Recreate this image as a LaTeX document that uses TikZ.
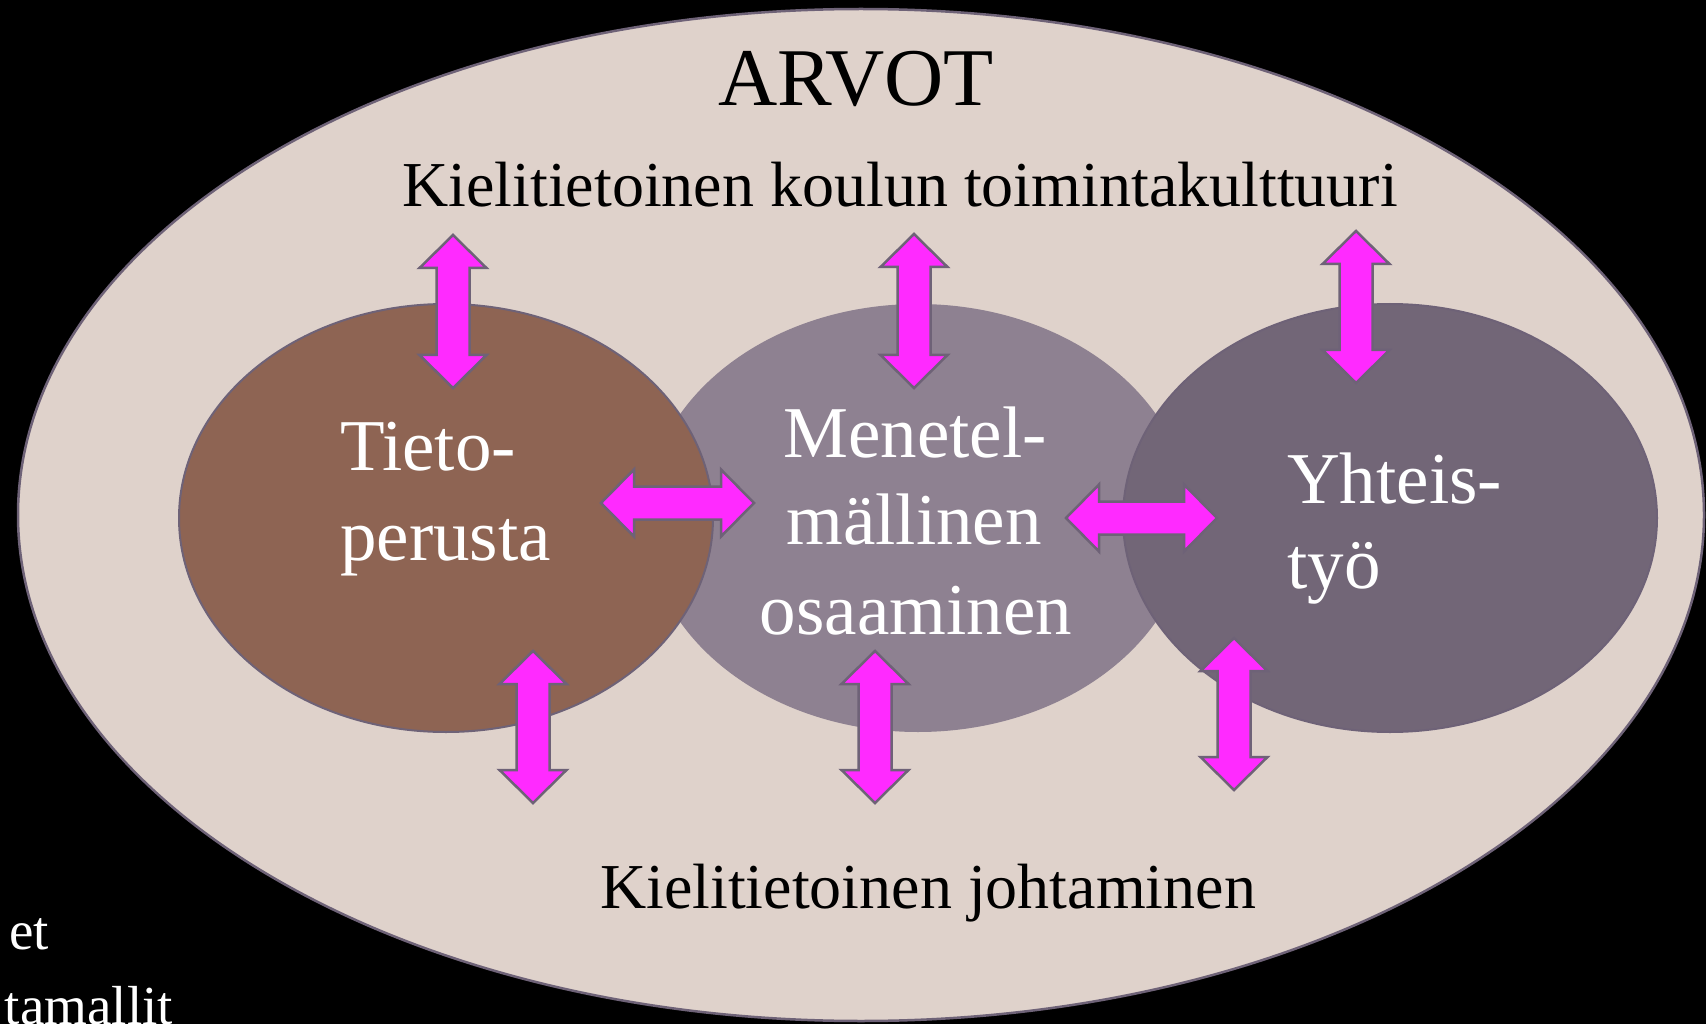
\documentclass[tikz,border=0pt]{standalone}
\usepackage{fontspec}
\setmainfont{Liberation Serif}
\definecolor{outerfill}{HTML}{DFD2CB}
\definecolor{brownfill}{HTML}{8E6453}
\definecolor{midfill}{HTML}{8E8191}
\definecolor{rightfill}{HTML}{726677}
\definecolor{edgecol}{HTML}{6E6277}
\definecolor{arrowfill}{HTML}{FF2AFF}
\tikzset{
  dblarrow/.style={fill=arrowfill, draw=edgecol, line width=2.5pt, line join=miter},
  darktext/.style={text=black, inner sep=0pt, anchor=base},
  lighttext/.style={text=white, inner sep=0pt, font=\fontsize{73}{88}\selectfont},
}
\newcommand{\VArrow}[3]{\draw[dblarrow] (#1,#2) -- (#1+33.5,#2+33) -- (#1+16.5,#2+33) -- (#1+16.5,#3-33) -- (#1+33.5,#3-33) -- (#1,#3) -- (#1-33.5,#3-33) -- (#1-16.5,#3-33) -- (#1-16.5,#2+33) -- (#1-33.5,#2+33) -- cycle;}
\newcommand{\HArrow}[3]{\draw[dblarrow] (#2,#1) -- (#2+33,#1-33.5) -- (#2+33,#1-16.5) -- (#3-33,#1-16.5) -- (#3-33,#1-33.5) -- (#3,#1) -- (#3-33,#1+33.5) -- (#3-33,#1+16.5) -- (#2+33,#1+16.5) -- (#2+33,#1+33.5) -- cycle;}
\begin{document}
\begin{tikzpicture}[x=1pt,y=-1pt]
\useasboundingbox (0,0) rectangle (1706,1024);
\fill[black] (0,0) rectangle (1706,1024);
\clip (0,0) rectangle (1706,1024);
% text behind, bottom left
\node[text=white, inner sep=0pt, anchor=base east, font=\fontsize{55}{66}\selectfont] (et) at (49,949) {et};
\node[text=white, inner sep=0pt, anchor=base east, font=\fontsize{55}{66}\selectfont] (tam) at (173,1024) {tamallit};
% outer ellipse
\draw[fill=outerfill, draw=edgecol, line width=2.5pt] (861,515) ellipse [x radius=843pt, y radius=506pt];
% inner ellipses
\fill[midfill] (918,518) ellipse [x radius=272pt, y radius=214pt];
\draw[fill=brownfill, draw=edgecol, line width=2pt] (446,518) ellipse [x radius=267pt, y radius=214pt];
\draw[fill=rightfill, draw=edgecol, line width=2pt] (1390,518) ellipse [x radius=267pt, y radius=214pt];
% titles
\node[darktext, font=\fontsize{82}{96}\selectfont] (arvot) at (856,106) {ARVOT};
\node[darktext, font=\fontsize{64}{76}\selectfont] (kult) at (900,207) {Kielitietoinen koulun toimintakulttuuri};
\node[darktext, font=\fontsize{64}{76}\selectfont] (joht) at (928,908) {Kielitietoinen johtaminen};
% ellipse texts
\node[lighttext, anchor=base west] (t1) at (340,470) {Tieto-};
\node[lighttext, anchor=base west] (t2) at (340,560) {perusta};
\node[lighttext, anchor=base] (m1) at (915,457) {Menetel-};
\node[lighttext, anchor=base] (m2) at (914,544) {mällinen};
\node[lighttext, anchor=base] (m3) at (916,634) {osaaminen};
\node[lighttext, anchor=base west] (y1) at (1287,503) {Yhteis-};
\node[lighttext, anchor=base west] (y2) at (1287,588) {työ};
% arrows
\VArrow{453}{235}{388}
\VArrow{914}{234}{388}
\VArrow{1356}{231}{383}
\VArrow{533}{651}{803}
\VArrow{875}{651}{803}
\VArrow{1234}{638}{790}
\HArrow{503}{601}{754}
\HArrow{518}{1066}{1217}
\end{tikzpicture}
\end{document}
